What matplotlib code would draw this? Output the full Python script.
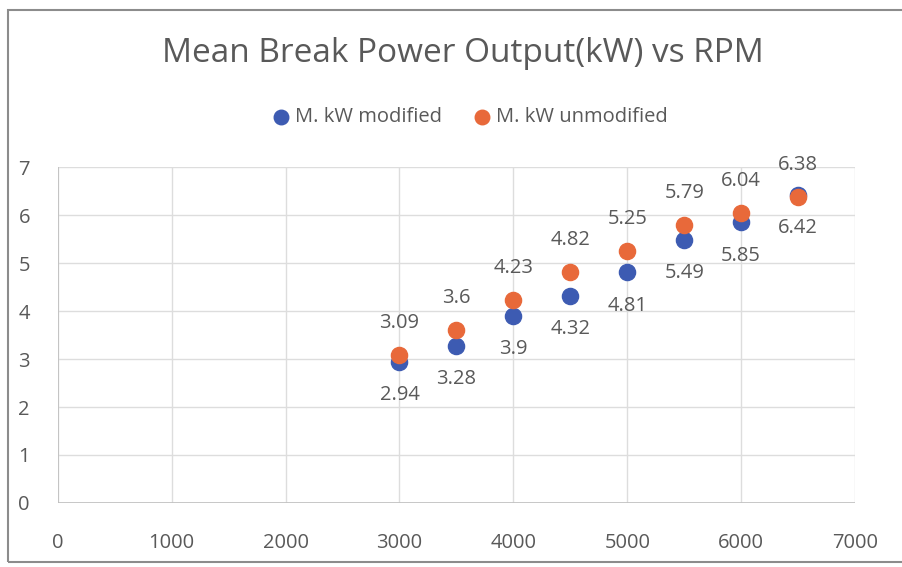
"""
Mean break power output vs RPM, modified vs unmodified engine (Excel-style scatter).
"""
import matplotlib
matplotlib.use("Agg")
import matplotlib.pyplot as plt
from matplotlib.patches import Rectangle

RPM        = [3000, 3500, 4000, 4500, 5000, 5500, 6000, 6500]
KW_MOD     = [2.94, 3.28, 3.9, 4.32, 4.81, 5.49, 5.85, 6.42]
KW_UNMOD   = [3.09, 3.6, 4.23, 4.82, 5.25, 5.79, 6.04, 6.38]
X_TICKS    = [0, 1000, 2000, 3000, 4000, 5000, 6000, 7000]
Y_TICKS    = [0, 1, 2, 3, 4, 5, 6, 7]

BLUE   = "#3D5BB2"
ORANGE = "#E8693A"
TEXT   = "#595959"
GRID   = "#DDDDDD"

plt.rcParams["font.family"] = ["Open Sans", "DejaVu Sans"]


def main():
    fig = plt.figure(figsize=(9.02, 5.67), dpi=100)
    ax = fig.add_axes([0.064, 0.113, 0.884, 0.592])

    ax.scatter(RPM, KW_MOD, s=135, color=BLUE, zorder=3, label="M. kW modified")
    ax.scatter(RPM, KW_UNMOD, s=135, color=ORANGE, zorder=4, label="M. kW unmodified")

    # data labels: modified below, unmodified above
    for x, v in zip(RPM, KW_MOD):
        ax.annotate("%g" % v, (x, v), xytext=(0, -24), textcoords="offset points",
                    ha="center", va="center", fontsize=14.5, color=TEXT)
    for x, v in zip(RPM, KW_UNMOD):
        ax.annotate("%g" % v, (x, v), xytext=(0, 23), textcoords="offset points",
                    ha="center", va="center", fontsize=14.5, color=TEXT)

    ax.set_xlim(0, 7000); ax.set_ylim(0, 7)
    ax.set_xticks(X_TICKS); ax.set_yticks(Y_TICKS)
    ax.tick_params(length=0, labelsize=14.5, labelcolor=TEXT)
    ax.tick_params(axis="x", pad=22)
    ax.tick_params(axis="y", pad=20)
    ax.grid(True, color=GRID, lw=1)
    ax.set_axisbelow(True)
    for s in ax.spines.values():
        s.set_visible(False)
    ax.axhline(0, color="#BFBFBF", lw=1.2, zorder=1)
    ax.axvline(0, color="#BFBFBF", lw=1.2, zorder=1)

    fig.text(0.513, 0.905, "Mean Break Power Output(kW) vs RPM", ha="center",
             va="center", fontsize=24, color=TEXT)
    fig.legend(loc="center", bbox_to_anchor=(0.515, 0.793), ncol=2, frameon=False,
               fontsize=14.5, labelcolor=TEXT, handletextpad=-0.3, columnspacing=1.0,
               markerscale=0.9)

    # chart border
    fig.patches.append(Rectangle((0.009, 0.008), 1.2, 0.975, transform=fig.transFigure,
                                 fill=False, edgecolor="#8C8C8C", lw=1.5))

    fig.savefig("out.png", dpi=100)


if __name__ == "__main__":
    main()
